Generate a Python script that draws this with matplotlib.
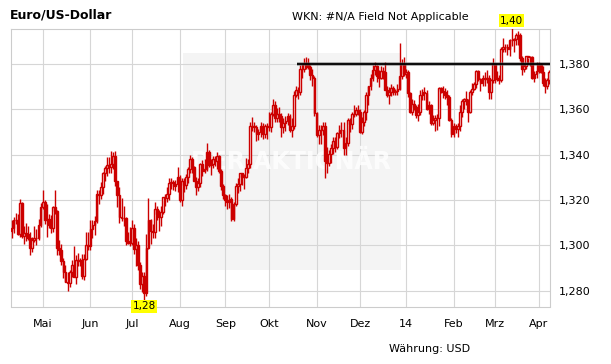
import numpy as np
import pandas as pd
import matplotlib
matplotlib.use("Agg")
import matplotlib.pyplot as plt
from matplotlib.patches import Rectangle

# EUR/USD daily candles, 2013-04-10 .. 2014-04-08 (business days)
dates = pd.bdate_range("2013-04-10", "2014-04-08")
month_labels = ["Mai", "Jun", "Jul", "Aug", "Sep", "Okt", "Nov", "Dez", "14", "Feb", "Mrz", "Apr"]
y_ticks = [1.280, 1.300, 1.320, 1.340, 1.360, 1.380]

opens = [
    # Apr
    1.3065, 1.3075, 1.3110, 1.3112, 1.3048, 1.3185, 1.3040, 1.3055, 1.3050, 1.3030, 1.2990, 1.3025, 1.3030, 1.3030, 1.3090,
    # Mai
    1.3170, 1.3190, 1.3110, 1.3115, 1.3090, 1.3075, 1.3170, 1.3150, 1.2990, 1.2980, 1.2930, 1.2880, 1.2840, 1.2835, 1.2880,
    1.2915, 1.2860, 1.2935, 1.2930, 1.2935, 1.2865, 1.2940, 1.3000,
    # Jun
    1.2995, 1.3070, 1.3090, 1.3105, 1.3225, 1.3220, 1.3255, 1.3320, 1.3340, 1.3355, 1.3345, 1.3360, 1.3395, 1.3285, 1.3220,
    1.3125, 1.3120, 1.3120, 1.3020, 1.3010,
    # Jul
    1.3010, 1.3075, 1.2985, 1.3000, 1.2915, 1.2830, 1.2865, 1.2790, 1.2990, 1.3110, 1.3065, 1.3060, 1.3160, 1.3140, 1.3125,
    1.3145, 1.3215, 1.3210, 1.3225, 1.3275, 1.3280, 1.3260, 1.3270,
    # Aug
    1.3300, 1.3200, 1.3285, 1.3265, 1.3300, 1.3335, 1.3380, 1.3345, 1.3285, 1.3255, 1.3275, 1.3360, 1.3330, 1.3335, 1.3410,
    1.3355, 1.3360, 1.3380, 1.3370, 1.3395, 1.3330, 1.3260,
    # Sep
    1.3220, 1.3200, 1.3190, 1.3205, 1.3115, 1.3180, 1.3260, 1.3270, 1.3320, 1.3300, 1.3300, 1.3340, 1.3360, 1.3525, 1.3525,
    1.3520, 1.3490, 1.3500, 1.3525, 1.3490, 1.3525,
    # Okt
    1.3525, 1.3520, 1.3580, 1.3620, 1.3560, 1.3580, 1.3570, 1.3520, 1.3540, 1.3550, 1.3570, 1.3510, 1.3525, 1.3665, 1.3685,
    1.3675, 1.3780, 1.3780, 1.3800, 1.3805, 1.3785, 1.3750, 1.3740,
    # Nov
    1.3585, 1.3485, 1.3510, 1.3510, 1.3525, 1.3370, 1.3365, 1.3405, 1.3430, 1.3460, 1.3435, 1.3495, 1.3510, 1.3510, 1.3430,
    1.3450, 1.3555, 1.3535, 1.3580, 1.3580, 1.3595,
    # Dez
    1.3590, 1.3500, 1.3545, 1.3590, 1.3665, 1.3705, 1.3740, 1.3775, 1.3790, 1.3745, 1.3740, 1.3770, 1.3765, 1.3685, 1.3665,
    1.3675, 1.3695, 1.3675, 1.3680, 1.3690, 1.3745, 1.3800,
    # Jan
    1.3755, 1.3765, 1.3670, 1.3590, 1.3625, 1.3610, 1.3575, 1.3590, 1.3665, 1.3675, 1.3670, 1.3600, 1.3620, 1.3540, 1.3555,
    1.3560, 1.3560, 1.3695, 1.3680, 1.3675, 1.3665, 1.3655, 1.3555,
    # Feb
    1.3490, 1.3525, 1.3515, 1.3525, 1.3590, 1.3635, 1.3645, 1.3640, 1.3590, 1.3675, 1.3690, 1.3710, 1.3770, 1.3735, 1.3715,
    1.3740, 1.3735, 1.3740, 1.3675, 1.3730,
    # Mrz
    1.3800, 1.3735, 1.3740, 1.3730, 1.3865, 1.3875, 1.3875, 1.3865, 1.3905, 1.3905, 1.3910, 1.3930, 1.3930, 1.3825, 1.3780,
    1.3790, 1.3835, 1.3830, 1.3830, 1.3740, 1.3755,
    # Apr
    1.3770, 1.3795, 1.3765, 1.3715, 1.3705, 1.3730,
]

highs = [
    1.3110, 1.3125, 1.3143, 1.3140, 1.3205, 1.3190, 1.3085, 1.3100, 1.3085, 1.3060, 1.3035, 1.3085, 1.3070, 1.3115, 1.3185,
    1.3243, 1.3200, 1.3180, 1.3140, 1.3135, 1.3175, 1.3242, 1.3155, 1.3025, 1.3005, 1.2945, 1.2915, 1.2880, 1.2890, 1.2935,
    1.2995, 1.2955, 1.2965, 1.2945, 1.2960, 1.2960, 1.3060, 1.3060,
    1.3110, 1.3110, 1.3130, 1.3245, 1.3245, 1.3280, 1.3325, 1.3350, 1.3390, 1.3390, 1.3415, 1.3410, 1.3417, 1.3285, 1.3255,
    1.3210, 1.3175, 1.3125, 1.3060, 1.3080,
    1.3110, 1.3095, 1.3030, 1.3020, 1.2925, 1.2880, 1.2880, 1.3050, 1.3208, 1.3115, 1.3095, 1.3190, 1.3175, 1.3155, 1.3175,
    1.3215, 1.3225, 1.3255, 1.3295, 1.3295, 1.3290, 1.3290, 1.3345,
    1.3310, 1.3295, 1.3295, 1.3315, 1.3345, 1.3400, 1.3390, 1.3350, 1.3300, 1.3295, 1.3365, 1.3375, 1.3380, 1.3450, 1.3420,
    1.3380, 1.3395, 1.3395, 1.3410, 1.3400, 1.3335, 1.3270,
    1.3225, 1.3220, 1.3225, 1.3215, 1.3190, 1.3275, 1.3295, 1.3320, 1.3320, 1.3315, 1.3385, 1.3380, 1.3545, 1.3568, 1.3545,
    1.3530, 1.3515, 1.3545, 1.3540, 1.3535, 1.3540,
    1.3590, 1.3590, 1.3646, 1.3635, 1.3605, 1.3610, 1.3585, 1.3560, 1.3570, 1.3585, 1.3580, 1.3560, 1.3680, 1.3704, 1.3700,
    1.3795, 1.3800, 1.3825, 1.3833, 1.3825, 1.3795, 1.3780, 1.3745,
    1.3590, 1.3530, 1.3530, 1.3545, 1.3545, 1.3435, 1.3420, 1.3445, 1.3480, 1.3480, 1.3500, 1.3530, 1.3545, 1.3545, 1.3480,
    1.3560, 1.3560, 1.3590, 1.3620, 1.3610, 1.3620,
    1.3600, 1.3565, 1.3595, 1.3675, 1.3705, 1.3755, 1.3795, 1.3810, 1.3795, 1.3775, 1.3790, 1.3785, 1.3810, 1.3705, 1.3700,
    1.3710, 1.3705, 1.3690, 1.3710, 1.3893, 1.3820, 1.3830,
    1.3780, 1.3775, 1.3675, 1.3645, 1.3640, 1.3620, 1.3625, 1.3685, 1.3690, 1.3700, 1.3685, 1.3635, 1.3625, 1.3575, 1.3575,
    1.3580, 1.3700, 1.3700, 1.3705, 1.3695, 1.3685, 1.3665, 1.3560,
    1.3540, 1.3535, 1.3540, 1.3620, 1.3645, 1.3650, 1.3680, 1.3645, 1.3685, 1.3715, 1.3720, 1.3775, 1.3775, 1.3740, 1.3750,
    1.3765, 1.3775, 1.3750, 1.3735, 1.3825,
    1.3805, 1.3770, 1.3750, 1.3875, 1.3915, 1.3890, 1.3890, 1.3910, 1.3966, 1.3915, 1.3935, 1.3945, 1.3935, 1.3835, 1.3805,
    1.3820, 1.3825, 1.3835, 1.3835, 1.3770, 1.3810,
    1.3810, 1.3805, 1.3790, 1.3740, 1.3740, 1.3775,
]

lows = [
    1.3030, 1.3055, 1.3095, 1.3045, 1.3035, 1.3030, 1.3005, 1.3020, 1.3025, 1.2955, 1.2970, 1.3015, 1.3000, 1.3025, 1.3080,
    1.3160, 1.3095, 1.3035, 1.3075, 1.3055, 1.3060, 1.3140, 1.2955, 1.2955, 1.2915, 1.2855, 1.2840, 1.2797, 1.2815, 1.2860,
    1.2860, 1.2830, 1.2910, 1.2910, 1.2850, 1.2845, 1.2935, 1.2980,
    1.2980, 1.3030, 1.3045, 1.3100, 1.3180, 1.3205, 1.3225, 1.3285, 1.3305, 1.3320, 1.3320, 1.3335, 1.3260, 1.3170, 1.3100,
    1.3105, 1.3085, 1.3000, 1.3005, 1.2995,
    1.3000, 1.2960, 1.2910, 1.2890, 1.2805, 1.2795, 1.2755, 1.2775, 1.2985, 1.3005, 1.3030, 1.3030, 1.3110, 1.3065, 1.3085,
    1.3140, 1.3175, 1.3190, 1.3200, 1.3250, 1.3245, 1.3240, 1.3235,
    1.3190, 1.3175, 1.3235, 1.3250, 1.3275, 1.3320, 1.3320, 1.3285, 1.3220, 1.3240, 1.3255, 1.3305, 1.3320, 1.3330, 1.3345,
    1.3310, 1.3340, 1.3350, 1.3335, 1.3320, 1.3245, 1.3205,
    1.3175, 1.3160, 1.3165, 1.3105, 1.3105, 1.3175, 1.3230, 1.3240, 1.3265, 1.3250, 1.3295, 1.3320, 1.3340, 1.3505, 1.3500,
    1.3460, 1.3465, 1.3480, 1.3470, 1.3475, 1.3470,
    1.3505, 1.3500, 1.3570, 1.3545, 1.3545, 1.3545, 1.3480, 1.3495, 1.3505, 1.3530, 1.3500, 1.3480, 1.3515, 1.3655, 1.3645,
    1.3665, 1.3740, 1.3765, 1.3780, 1.3780, 1.3730, 1.3705, 1.3570,
    1.3480, 1.3445, 1.3445, 1.3485, 1.3296, 1.3320, 1.3350, 1.3365, 1.3405, 1.3410, 1.3425, 1.3475, 1.3480, 1.3400, 1.3400,
    1.3440, 1.3500, 1.3515, 1.3565, 1.3570, 1.3575,
    1.3495, 1.3490, 1.3525, 1.3555, 1.3620, 1.3685, 1.3725, 1.3750, 1.3720, 1.3700, 1.3735, 1.3735, 1.3685, 1.3655, 1.3625,
    1.3660, 1.3665, 1.3665, 1.3665, 1.3685, 1.3735, 1.3745,
    1.3740, 1.3655, 1.3585, 1.3575, 1.3595, 1.3560, 1.3550, 1.3575, 1.3640, 1.3640, 1.3595, 1.3580, 1.3530, 1.3530, 1.3505,
    1.3510, 1.3525, 1.3670, 1.3650, 1.3645, 1.3620, 1.3550, 1.3477,
    1.3480, 1.3495, 1.3480, 1.3505, 1.3565, 1.3600, 1.3620, 1.3545, 1.3585, 1.3665, 1.3685, 1.3695, 1.3725, 1.3680, 1.3705,
    1.3705, 1.3715, 1.3645, 1.3645, 1.3715,
    1.3715, 1.3725, 1.3710, 1.3720, 1.3855, 1.3855, 1.3840, 1.3835, 1.3880, 1.3855, 1.3885, 1.3885, 1.3815, 1.3750, 1.3765,
    1.3780, 1.3800, 1.3790, 1.3735, 1.3720, 1.3740,
    1.3760, 1.3760, 1.3705, 1.3670, 1.3690, 1.3710,
]

closes = [
    1.3075, 1.3110, 1.3112, 1.3048, 1.3185, 1.3040, 1.3055, 1.3050, 1.3030, 1.2990, 1.3025, 1.3030, 1.3030, 1.3090, 1.3170,
    1.3190, 1.3110, 1.3115, 1.3090, 1.3075, 1.3170, 1.3150, 1.2990, 1.2980, 1.2930, 1.2880, 1.2840, 1.2835, 1.2880, 1.2915,
    1.2860, 1.2935, 1.2930, 1.2935, 1.2865, 1.2940, 1.3000, 1.2995,
    1.3070, 1.3090, 1.3105, 1.3225, 1.3220, 1.3255, 1.3320, 1.3340, 1.3355, 1.3345, 1.3360, 1.3395, 1.3285, 1.3220, 1.3125,
    1.3120, 1.3120, 1.3020, 1.3010, 1.3010,
    1.3075, 1.2985, 1.3000, 1.2915, 1.2830, 1.2865, 1.2790, 1.2990, 1.3110, 1.3065, 1.3060, 1.3160, 1.3140, 1.3125, 1.3145,
    1.3215, 1.3210, 1.3225, 1.3275, 1.3280, 1.3260, 1.3270, 1.3300,
    1.3200, 1.3285, 1.3265, 1.3300, 1.3335, 1.3380, 1.3345, 1.3285, 1.3255, 1.3275, 1.3360, 1.3330, 1.3335, 1.3410, 1.3355,
    1.3360, 1.3380, 1.3370, 1.3395, 1.3330, 1.3260, 1.3220,
    1.3200, 1.3190, 1.3205, 1.3115, 1.3180, 1.3260, 1.3270, 1.3320, 1.3300, 1.3300, 1.3340, 1.3360, 1.3525, 1.3525, 1.3520,
    1.3490, 1.3500, 1.3525, 1.3490, 1.3525, 1.3525,
    1.3520, 1.3580, 1.3620, 1.3560, 1.3580, 1.3570, 1.3520, 1.3540, 1.3550, 1.3570, 1.3510, 1.3525, 1.3665, 1.3685, 1.3675,
    1.3780, 1.3780, 1.3800, 1.3805, 1.3785, 1.3750, 1.3740, 1.3585,
    1.3485, 1.3510, 1.3510, 1.3525, 1.3370, 1.3365, 1.3405, 1.3430, 1.3460, 1.3435, 1.3495, 1.3510, 1.3510, 1.3430, 1.3450,
    1.3555, 1.3535, 1.3580, 1.3580, 1.3595, 1.3590,
    1.3500, 1.3545, 1.3590, 1.3665, 1.3705, 1.3740, 1.3775, 1.3790, 1.3745, 1.3740, 1.3770, 1.3765, 1.3685, 1.3665, 1.3675,
    1.3695, 1.3675, 1.3680, 1.3690, 1.3745, 1.3800, 1.3755,
    1.3765, 1.3670, 1.3590, 1.3625, 1.3610, 1.3575, 1.3590, 1.3665, 1.3675, 1.3670, 1.3600, 1.3620, 1.3540, 1.3555, 1.3560,
    1.3560, 1.3695, 1.3680, 1.3675, 1.3665, 1.3655, 1.3555, 1.3490,
    1.3525, 1.3515, 1.3525, 1.3590, 1.3635, 1.3645, 1.3640, 1.3590, 1.3675, 1.3690, 1.3710, 1.3770, 1.3735, 1.3715, 1.3740,
    1.3735, 1.3740, 1.3675, 1.3730, 1.3800,
    1.3735, 1.3740, 1.3730, 1.3865, 1.3875, 1.3875, 1.3865, 1.3905, 1.3905, 1.3910, 1.3930, 1.3930, 1.3825, 1.3780, 1.3790,
    1.3835, 1.3830, 1.3830, 1.3740, 1.3755, 1.3770,
    1.3795, 1.3765, 1.3715, 1.3705, 1.3730, 1.3765,
]

resistance_level = 1.380
resistance_from = "2013-10-21"

RED = "#cc0000"

o = np.array(opens)
h = np.array(highs)
l = np.array(lows)
c = np.array(closes)
x = np.arange(len(dates))

fig = plt.figure(figsize=(6.11, 3.64), dpi=100)
ax = fig.add_axes([10.5 / 611, 57.5 / 364, 539.5 / 611, 277.5 / 364])

# grey watermark box with the logo text
ax.add_patch(Rectangle((0.319, 0.1315), 0.405, 0.7805, transform=ax.transAxes,
                       facecolor="#f4f4f4", edgecolor="none", zorder=0.2))
ax.text(0.52, 0.5225, "DER AKTIONÄR", transform=ax.transAxes, ha="center", va="center",
        fontsize=17, fontweight="bold", color="white", alpha=0.8, zorder=0.8)

# candles
ax.vlines(x, l, h, color=RED, linewidth=1.0, zorder=3)
ax.bar(x, c - o, bottom=o, width=0.85, color=np.where(c >= o, "white", RED),
       edgecolor=RED, linewidth=1.0, zorder=4)

# resistance line
x_start = dates.get_loc(pd.Timestamp(resistance_from)) - 0.5
x_end = len(dates) - 0.5
ax.plot([x_start, x_end], [resistance_level] * 2, color="#666666", linewidth=2.6, alpha=0.6,
        solid_capstyle="butt", zorder=5)
ax.plot([x_start, x_end], [resistance_level] * 2, color="black", linewidth=1.3,
        solid_capstyle="butt", zorder=5)

ax.set_xlim(-0.5, len(dates) - 0.5)
ax.set_ylim(1.27298, 1.39545)

month_starts = [i for i in range(1, len(dates)) if dates[i].month != dates[i - 1].month]
ax.set_xticks(month_starts)
ax.set_xticklabels(month_labels)
ax.yaxis.tick_right()
ax.set_yticks(y_ticks)
ax.set_yticklabels([f"{v:.3f}".replace(".", ",") for v in y_ticks])
ax.tick_params(axis="x", length=0, pad=9, labelsize=8, colors="black")
ax.tick_params(axis="y", length=0, pad=6, labelsize=8, colors="black")

ax.grid(True, color="#d6d6d6", linewidth=0.8)
ax.set_axisbelow(True)
for s in ax.spines.values():
    s.set_color("#cccccc")
    s.set_linewidth(0.8)

# max / min markers
def fmt2(v):
    return f"{v:.2f}".replace(".", ",")

imax = int(h.argmax())
imin = int(l.argmin())
box = dict(boxstyle="square,pad=0.12", facecolor="#ffff00", edgecolor="none")
ax.annotate(fmt2(h[imax]), (imax, h[imax]), xytext=(0, 0.5), textcoords="offset points",
            ha="center", va="bottom", fontsize=7.5, bbox=box, annotation_clip=False, zorder=6)
ax.annotate(fmt2(l[imin]), (imin, l[imin]), xytext=(0, -0.5), textcoords="offset points",
            ha="center", va="top", fontsize=7.5, bbox=box, annotation_clip=False, zorder=6)

fig.text(10 / 611, 1 - 15 / 364, "Euro/US-Dollar", fontsize=9, fontweight="bold", va="center")
fig.text(292 / 611, 1 - 16.5 / 364, "WKN: #N/A Field Not Applicable", fontsize=8, va="center")
fig.text(389 / 611, 1 - 348.5 / 364, "Währung: USD", fontsize=8, va="center")

fig.savefig("out.png", dpi=100)
